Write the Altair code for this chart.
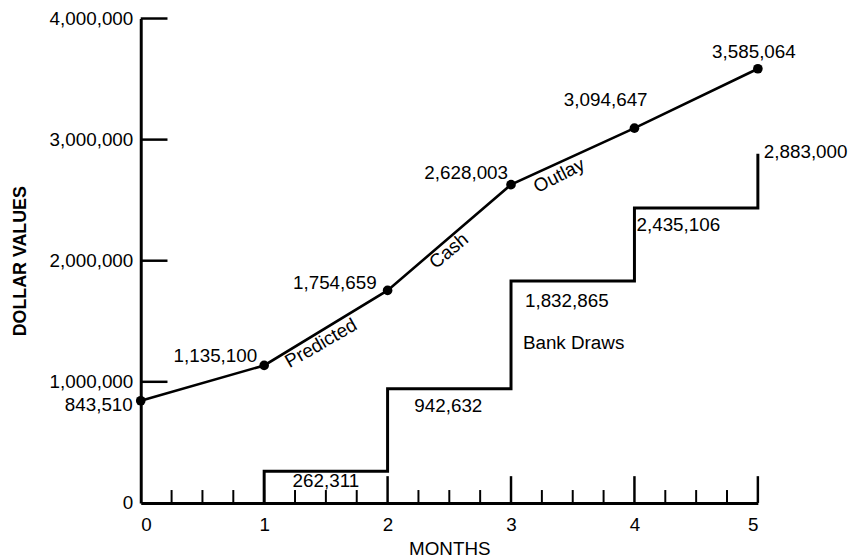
import altair as alt
import pandas as pd

# ---- data ----
months = [0, 1, 2, 3, 4, 5]
predicted_cash = [843510, 1135100, 1754659, 2628003, 3094647, 3585064]
cash_labels = ["843,510", "1,135,100", "1,754,659", "2,628,003", "3,094,647", "3,585,064"]

draw_months = [1, 2, 3, 4, 5]
bank_draws = [262311, 942632, 1832865, 2435106, 2883000]
draw_labels = ["262,311", "942,632", "1,832,865", "2,435,106", "2,883,000"]

y_ticks = [0, 1000000, 2000000, 3000000, 4000000]
x_ticks = [0, 1, 2, 3, 4, 5]
major_x_ticks = [2, 3, 4, 5]
minor_x_ticks = [0.25, 0.5, 0.75, 1, 1.25, 1.5, 1.75, 2.25, 2.5, 2.75,
                 3.25, 3.5, 3.75, 4.25, 4.5, 4.75]
segment_words = ["Predicted", "Cash", "Outlay"]

FONT = "Liberation Sans"
FS = 19
W, H = 623, 489

xs = alt.Scale(domain=[0, 5], nice=False, zero=True)
ys = alt.Scale(domain=[0, 4000000], nice=False)

cash_df = pd.DataFrame({"x": months, "y": predicted_cash})

# step path for bank draws built from the arrays
px, py = [draw_months[0]], [0]
for i in range(len(bank_draws) - 1):
    px += [draw_months[i], draw_months[i + 1]]
    py += [bank_draws[i], bank_draws[i]]
px.append(draw_months[-1]); py.append(bank_draws[-1])
step_df = pd.DataFrame({"x": px, "y": py, "o": list(range(len(px)))})

base_line = alt.Chart(cash_df).mark_line(color="black", strokeWidth=2.6).encode(
    x=alt.X("x:Q", scale=xs,
            axis=alt.Axis(values=x_ticks, format="d", title="MONTHS", ticks=False,
                          grid=False, domainColor="black", domainWidth=3,
                          labelFont=FONT, labelFontSize=FS, labelColor="black",
                          labelPadding=13, titleFont=FONT, titleFontSize=FS,
                          titleFontWeight="normal", titleColor="black", titlePadding=5)),
    y=alt.Y("y:Q", scale=ys,
            axis=alt.Axis(values=y_ticks, format=",.0f", title="DOLLAR VALUES", ticks=False,
                          grid=False, domainColor="black", domainWidth=3,
                          labelFont=FONT, labelFontSize=FS, labelColor="black",
                          labelPadding=8, titleFont=FONT, titleFontSize=18,
                          titleFontWeight="bold", titleColor="black", titlePadding=20)),
)
pts = alt.Chart(cash_df).mark_point(filled=True, color="black", size=95, opacity=1).encode(
    x=alt.X("x:Q", scale=xs), y=alt.Y("y:Q", scale=ys))

steps = alt.Chart(step_df).mark_line(color="black", strokeWidth=3).encode(
    x=alt.X("x:Q", scale=xs), y=alt.Y("y:Q", scale=ys), order="o:Q")

# inward ticks
ytick = alt.Chart(pd.DataFrame({"y": y_ticks[1:]})).mark_rule(color="black", strokeWidth=2.5).encode(
    y=alt.Y("y:Q", scale=ys), x=alt.value(0), x2=alt.value(27))
xmaj = alt.Chart(pd.DataFrame({"x": major_x_ticks})).mark_rule(color="black", strokeWidth=2.5).encode(
    x=alt.X("x:Q", scale=xs), y=alt.value(H), y2=alt.value(H - 27))
xmin = alt.Chart(pd.DataFrame({"x": minor_x_ticks})).mark_rule(color="black", strokeWidth=2).encode(
    x=alt.X("x:Q", scale=xs), y=alt.value(H), y2=alt.value(H - 13))

layers = [steps, base_line, pts, ytick, xmaj, xmin]


def label(x, y, text, align="center", dx=0, dy=0, angle=0):
    return alt.Chart(pd.DataFrame({"x": [x], "y": [y], "t": [text]})).mark_text(
        font=FONT, fontSize=FS, color="black", align=align, baseline="middle",
        dx=dx, dy=dy, angle=angle).encode(
        x=alt.X("x:Q", scale=xs), y=alt.Y("y:Q", scale=ys), text="t:N")


# predicted cash point labels (align, dx, dy)
cash_style = [("right", -8, 4), ("right", -7, -9), ("right", -11, -7),
              ("right", -3, -12), ("center", -29, -28), ("center", -4, -17)]
for m, v, t, (al, dx, dy) in zip(months, predicted_cash, cash_labels, cash_style):
    layers.append(label(m, v, t, al, dx, dy))

# bank draw labels
draw_style = [(0, 10), (-1, 17), (-6, 20), (-18, 17)]
for i in range(4):
    mid = (draw_months[i] + draw_months[i + 1]) / 2
    layers.append(label(mid, bank_draws[i], draw_labels[i], "center",
                        draw_style[i][0], draw_style[i][1]))
layers.append(label(draw_months[-1], bank_draws[-1], draw_labels[-1], "left", 6, -2))
layers.append(label(draw_months[2], bank_draws[2], "Bank Draws", "left", 12, 63))

# words along the cash line
word_style = [(330, -12, 11), (320, -9, 10), (333, -21, 11)]
for k, w in enumerate(segment_words):
    i = k + 1
    mx = (months[i] + months[i + 1]) / 2
    my = (predicted_cash[i] + predicted_cash[i + 1]) / 2
    ang, dx, dy = word_style[k]
    layers.append(label(mx, my, w, "center", dx, dy, ang))

chart = alt.layer(*layers).properties(
    width=W, height=H,
    autosize=alt.AutoSizeParams(type="none"),
    padding={"left": 134, "top": 8, "right": 92, "bottom": 53},
    background="white",
).configure_view(stroke=None)

chart.save("out.html", embed_options={"renderer": "svg", "actions": False})
